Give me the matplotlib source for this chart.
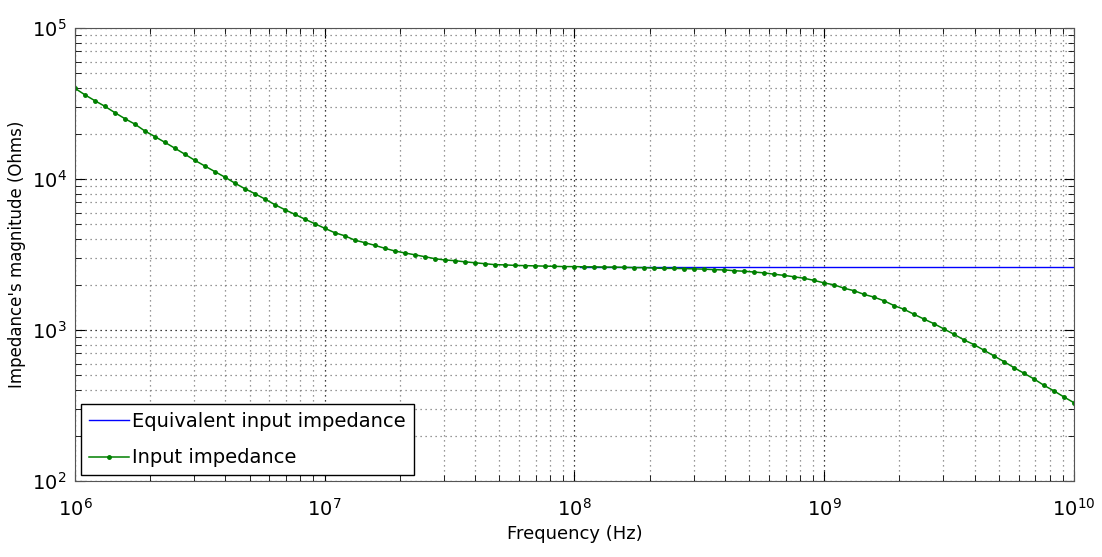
import numpy as np
import matplotlib
matplotlib.use("Agg")
from matplotlib import pyplot as plt

# frequency sampling: 101 points, 25 per decade, 1 MHz .. 10 GHz
freq = np.logspace(6, 10, 101)

# input impedance magnitude (Ohms)
z_in = [
    39900, 36100, 33000, 30300, 27500, 25100, 23100, 20800, 19100, 17500,
    16000, 14600, 13300, 12200, 11200, 10300, 9400, 8630, 8000, 7380,
    6770, 6270, 5840, 5430, 5060, 4720, 4410, 4210, 3940, 3790,
    3640, 3480, 3340, 3240, 3150, 3060, 2970, 2910, 2880, 2830,
    2790, 2750, 2710, 2700, 2680, 2670, 2660, 2650, 2640, 2630,
    2630, 2620, 2620, 2610, 2610, 2600, 2590, 2590, 2570, 2560,
    2560, 2550, 2540, 2530, 2510, 2500, 2470, 2450, 2420, 2390,
    2340, 2300, 2250, 2200, 2130, 2050, 1990, 1890, 1820, 1720,
    1650, 1560, 1450, 1370, 1270, 1180, 1100, 1015, 936, 859,
    800, 734, 673, 617, 563, 517, 474, 430, 395, 360,
    330,
]

# equivalent input impedance (flat)
freq_eq = [1.05e8, 1e10]
z_eq = [2620, 2620]

fig = plt.figure(figsize=(11.02, 5.57), dpi=100)
ax = fig.add_axes([0.068, 0.1364, 0.9066, 0.8133])

ax.plot(freq_eq, z_eq, color=(0, 0, 1), lw=1, label="Equivalent input impedance")
ax.plot(freq, z_in, color=(0, 0.5, 0), lw=1.1, marker=".", ms=5,
        label="Input impedance")

ax.set_xscale("log")
ax.set_yscale("log")
ax.set_xlim(1e6, 1e10)
ax.set_ylim(1e2, 1e5)

ax.grid(True, which="major", ls=(0, (1, 3)), color="black", lw=0.9)
ax.grid(True, which="minor", ls=(0, (1, 3)), color="#777777", lw=0.9)
ax.tick_params(which="both", direction="in", top=True, right=True,
               labelsize=14)
ax.tick_params(axis="x", pad=12)
ax.tick_params(axis="y", pad=6)
ax.tick_params(which="major", length=7)
ax.tick_params(which="minor", length=4)
for s in ax.spines.values():
    s.set_color("#555555")

ax.set_xlabel("Frequency (Hz)", fontsize=13)
ax.set_ylabel("Impedance's magnitude (Ohms)", fontsize=12)

leg = ax.legend(loc="lower left", fontsize=14, fancybox=False,
                edgecolor="black", framealpha=1, handlelength=2.1,
                borderaxespad=0.3, handletextpad=0.15, labelspacing=0.9)
leg.get_frame().set_linewidth(1)

fig.savefig("out.png", dpi=100)
